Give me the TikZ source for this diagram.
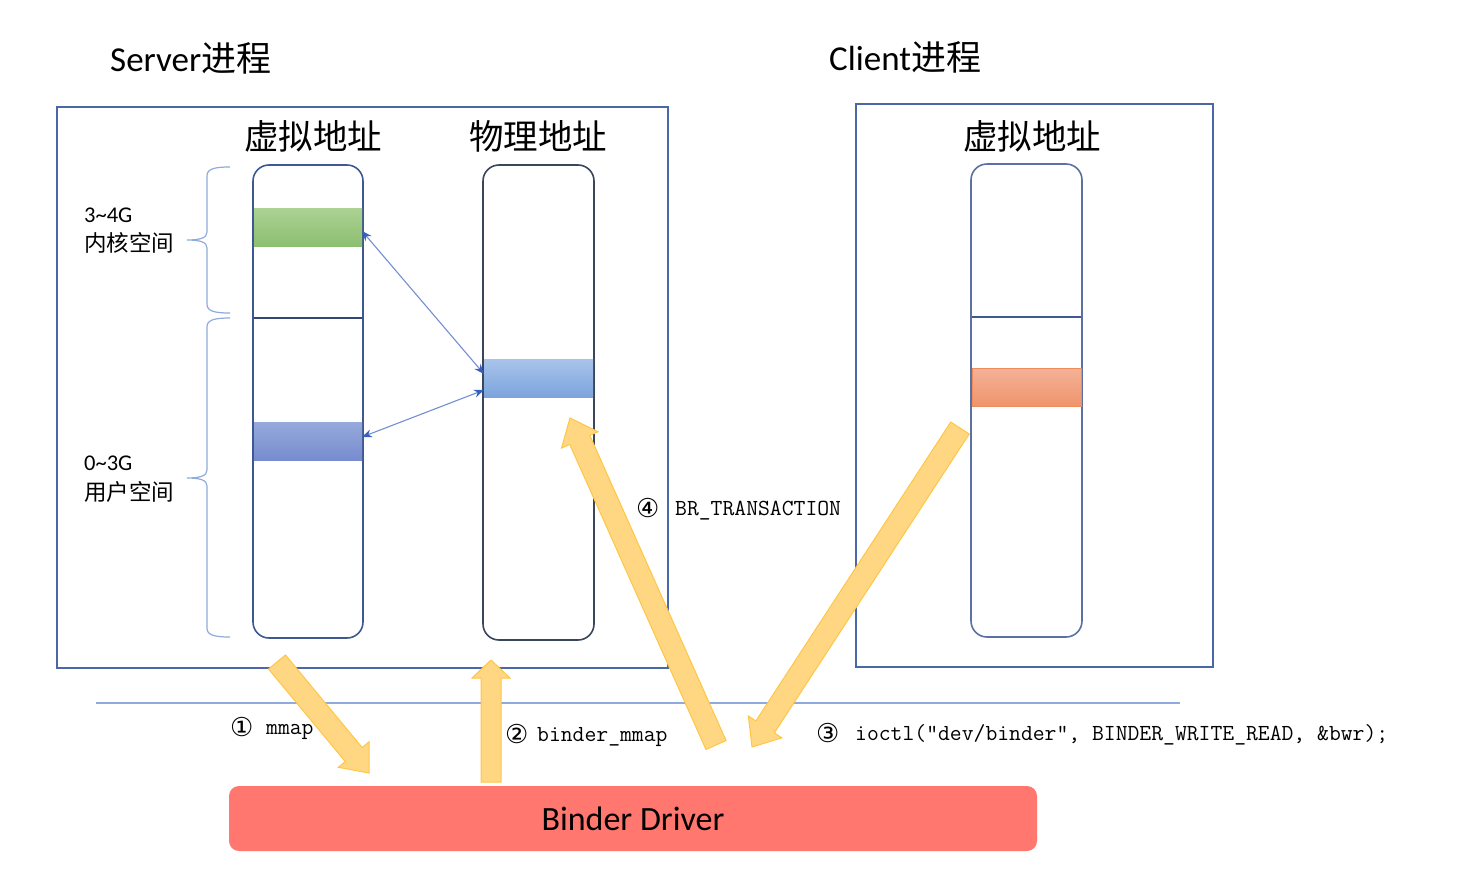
\documentclass[tikz,border=0pt]{standalone}
\usepackage{fontspec}
\setmainfont{Carlito}
\newfontfamily\cjk{Noto Sans CJK SC}
\newfontfamily\djv{DejaVu Sans}
\usetikzlibrary{calc,arrows.meta,shadings}
\definecolor{boxblue}{RGB}{74,104,166}
\definecolor{colblue}{RGB}{62,88,145}
\definecolor{physgray}{RGB}{58,70,90}
\definecolor{lightline}{RGB}{143,170,220}
\definecolor{arrblue}{RGB}{55,95,190}
\definecolor{fatfill}{RGB}{255,214,130}
\definecolor{fatdraw}{RGB}{255,198,70}
\definecolor{drvred}{RGB}{255,119,110}
\newcommand\fatarrow[5]{%
  \coordinate (#1hb) at ($(#2)!#5!(#1)$);
  \filldraw[fatarrowstyle]
    ($(#1)!#3!90:(#2)$) -- ($(#1hb)!#3!90:(#2)$) -- ($(#1hb)!#4!90:(#2)$) --
    (#2) -- ($(#1hb)!#4!-90:(#2)$) -- ($(#1hb)!#3!-90:(#2)$) --
    ($(#1)!#3!-90:(#2)$) -- cycle;
}
\tikzset{
  fatarrowstyle/.style={fill=fatfill, draw=fatdraw, line width=1pt, line join=miter},
  procbox/.style={draw=boxblue, line width=1.5pt},
  colbox/.style={draw, line width=1.6pt, rounded corners=16pt, fill=white, inner sep=0pt, outer sep=0pt},
  band/.style={inner sep=0pt, outer sep=0pt, minimum height=38pt},
  divline/.style={line width=1.5pt},
  bracestyle/.style={draw=lightline, line width=1.2pt},
  maparrow/.style={draw=arrblue!70, line width=1.1pt, {Stealth[length=10pt,width=8pt,color=arrblue]}-{Stealth[length=10pt,width=8pt,color=arrblue]}},
  title/.style={font=\fontsize{35}{40}\selectfont, anchor=west, inner sep=0pt},
  colhead/.style={font=\cjk\fontsize{34.5}{38}\selectfont, inner sep=0pt},
  sidelabel/.style={font=\fontsize{22.5}{26}\selectfont, anchor=west, inner sep=0pt},
  circnum/.style={font=\djv\fontsize{26}{28}\selectfont, anchor=base west, inner sep=0pt},
  codelabel/.style={font=\ttfamily\fontsize{23}{26}\selectfont, anchor=base west, inner sep=0pt},
}
\begin{document}
\begin{tikzpicture}[x=1pt,y=-1pt]
\useasboundingbox (0,0) rectangle (1458,886);

% titles
\node[title] (srvtitle) at (110,58) {Server{\cjk 进程}};
\node[title] (clititle) at (829,57) {Client{\cjk 进程}};

% process boxes
\draw[procbox] (57,107) rectangle (668,668);
\draw[procbox] (856,104) rectangle (1213,667);

% column headers
\node[colhead] (hv) at (313,136) {虚拟地址};
\node[colhead] (hp) at (538,136) {物理地址};
\node[colhead] (hc) at (1032,136) {虚拟地址};

% server virtual column
\node[colbox, draw=colblue, minimum width=110pt, minimum height=473pt] (sv) at (308,401.5) {};
\node[band, minimum width=108pt, top color={rgb,255:red,172;green,210;blue,148}, bottom color={rgb,255:red,140;green,190;blue,112}] (gband) at (308,227) {};
\node[band, minimum width=108pt, top color={rgb,255:red,150;green,170;blue,220}, bottom color={rgb,255:red,118;green,140;blue,206}] (bband) at (308,441) {};
\draw[divline, colblue!80!black] (254,318) -- (362,318);

% physical column
\node[colbox, draw=physgray, minimum width=111pt, minimum height=475pt] (pc) at (538.5,402.5) {};
\node[band, minimum width=109pt, top color={rgb,255:red,168;green,196;blue,234}, bottom color={rgb,255:red,124;green,164;blue,220}] (pband) at (538.5,378) {};

% client column
\node[colbox, draw=colblue!85, minimum width=111pt, minimum height=473pt] (cc) at (1026.5,400.5) {};
\draw[divline, colblue] (972,317) -- (1081,317);
\node[band, minimum width=109pt, draw={rgb,255:red,240;green,140;blue,90}, line width=1pt, top color={rgb,255:red,244;green,178;blue,152}, bottom color={rgb,255:red,240;green,148;blue,108}] (oband) at (1026.5,387) {};

% braces
\draw[bracestyle] (230,167) .. controls (214,167) and (207,169) .. (207,176) -- (207,232)
  .. controls (207,238) and (200,240) .. (187,240) .. controls (200,240) and (207,242) .. (207,248)
  -- (207,304) .. controls (207,311) and (214,313) .. (230,313);
\draw[bracestyle] (230,318) .. controls (214,318) and (207,320) .. (207,327) -- (207,470)
  .. controls (207,476) and (200,478) .. (187,478) .. controls (200,478) and (207,480) .. (207,486)
  -- (207,628) .. controls (207,635) and (214,637) .. (230,637);

% side labels
\node[sidelabel] (l34) at (84,215) {3\textasciitilde4G};
\node[sidelabel] (lk) at (84,243) {\cjk 内核空间};
\node[sidelabel] (l03) at (84,463) {0\textasciitilde3G};
\node[sidelabel] (lu) at (84,492) {\cjk 用户空间};

% mapping arrows
\draw[maparrow] ([yshift=-4pt]gband.east) -- ([yshift=4pt]pband.west);
\draw[maparrow] ([yshift=4pt]bband.east) -- ([yshift=-12pt]pband.west);

% separator line
\draw[lightline, line width=1.5pt] (96,703) -- (1180,703);

% binder driver
\node[fill=drvred, rounded corners=10pt, minimum width=808pt, minimum height=65pt, inner sep=0pt,
      font=\fontsize{34}{40}\selectfont] (drv) at (633,818.5) {Binder Driver};

% fat arrows
\coordinate (a1) at (277,662); \coordinate (a1t) at (369,773);
\coordinate (a2) at (491,782); \coordinate (a2t) at (491,660);
\coordinate (a3) at (716,745); \coordinate (a3t) at (570,418);
\coordinate (a4) at (960,428); \coordinate (a4t) at (752,747);
\fatarrow{a1}{a1t}{11pt}{20pt}{24pt}
\fatarrow{a2}{a2t}{10pt}{19pt}{18pt}
\fatarrow{a3}{a3t}{11pt}{20pt}{24pt}
\fatarrow{a4}{a4t}{11pt}{20pt}{24pt}

% step labels
\node[circnum] (n1) at (230,736) {①};
\node[codelabel] (t1) at (266,734) {mmap};
\node[circnum] (n2) at (505,743) {②};
\node[codelabel] (t2) at (537,741) {binder\_mmap};
\node[circnum] (n3) at (816,742) {③};
\node[codelabel] (t3) at (855,740) {ioctl("dev/binder", BINDER\_WRITE\_READ, \&bwr);};
\node[circnum] (n4) at (636,517) {④};
\node[codelabel] (t4) at (675,515) {BR\_TRANSACTION};
\end{tikzpicture}
\end{document}
